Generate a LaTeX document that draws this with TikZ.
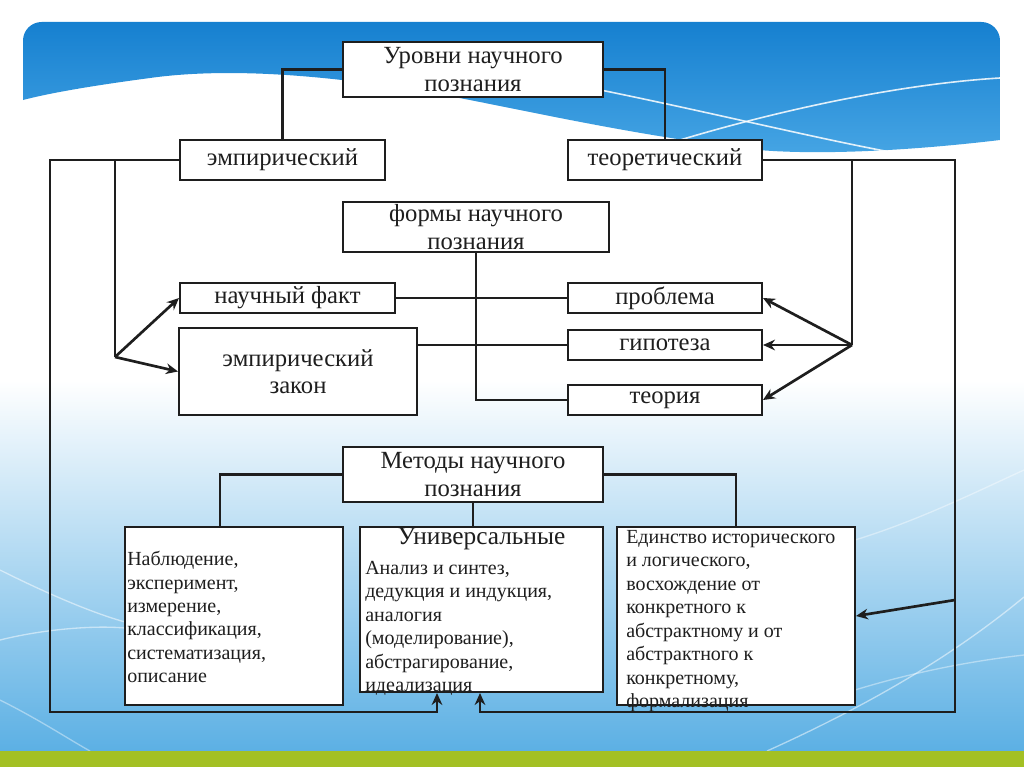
\documentclass[tikz,border=0pt]{standalone}
\usepackage{fontspec}
\setmainfont{Liberation Serif}
\usetikzlibrary{arrows.meta,calc}
\definecolor{bandtop}{RGB}{22,128,208}
\definecolor{bandbot}{RGB}{70,165,228}
\definecolor{bodymid}{RGB}{214,234,248}
\definecolor{bodybot}{RGB}{92,176,228}
\definecolor{barleaf}{RGB}{163,192,36}
\definecolor{ink}{RGB}{30,30,30}
\begin{document}
\begin{tikzpicture}[x=0.75pt,y=-0.75pt,
  box/.style={draw=ink, line width=1.5pt, fill=white, inner sep=0pt, align=center,
    text=ink, font=\fontsize{18.5}{20.5}\selectfont},
  conn/.style={draw=ink, line width=2pt},
  arr/.style={conn, -{Stealth[length=9pt,width=8pt]}},
  note/.style={inner sep=0pt, align=left, anchor=north west, text=ink,
    font=\fontsize{15}{17.6}\selectfont}]
\useasboundingbox (0,0) rectangle (1024,767);

% background
\fill[white] (0,0) rectangle (1024,767);
\shade[top color=white, middle color=bodymid, bottom color=bodybot] (0,380) rectangle (1024,751);
\begin{scope}
\clip[rounded corners=14pt] (23,22) rectangle (1000,800);
\shade[top color=bandtop, bottom color=bandbot] (23,22) -- (1000,22) -- (1000,140)
  .. controls (900,152) and (800,156) .. (740,148)
  .. controls (640,135) and (560,118) .. (480,102)
  .. controls (380,82) and (250,64) .. (150,78)
  .. controls (90,86) and (50,93) .. (23,100) -- cycle;
\draw[white, line width=1.2pt, opacity=.85] (560,82) .. controls (680,105) and (800,135) .. (890,152);
\draw[white, line width=1.2pt, opacity=.85] (680,140) .. controls (780,110) and (900,84) .. (1000,78);
\end{scope}
\draw[white, line width=1pt, opacity=.5] (0,570) .. controls (60,600) and (100,615) .. (125,622);
\draw[white, line width=1pt, opacity=.5] (0,640) .. controls (40,630) and (90,625) .. (125,628);
\draw[white, line width=1pt, opacity=.4] (0,700) .. controls (40,720) and (70,740) .. (90,751);
\draw[white, line width=1pt, opacity=.5] (767,751) .. controls (880,700) and (960,650) .. (1024,597);
\draw[white, line width=1pt, opacity=.4] (855,690) .. controls (920,670) and (980,660) .. (1024,655);
\draw[white, line width=1pt, opacity=.4] (855,540) .. controls (920,520) and (980,490) .. (1024,470);
\fill[barleaf] (0,751) rectangle (1024,767);

% boxes
\node[box, minimum width=195pt, minimum height=41.25pt] (lev) at (473,69.5) {Уровни научного\\познания};
\node[box, minimum width=153.75pt, minimum height=30pt] (emp) at (282.5,160) {эмпирический};
\node[box, minimum width=145.5pt, minimum height=30pt] (teor) at (665,160) {теоретический};
\node[box, minimum width=199.5pt, minimum height=37.5pt] (forms) at (476,227) {формы научного\\познания};
\node[box, minimum width=161.25pt, minimum height=22.5pt] (fact) at (287.5,298) {научный факт};
\node[box, minimum width=178.5pt, minimum height=65.25pt] (law) at (298,371.5) {эмпирический\\закон};
\node[box, minimum width=145.5pt, minimum height=22.5pt] (probl) at (665,298) {проблема};
\node[box, minimum width=145.5pt, minimum height=22.5pt] (hyp) at (665,345) {гипотеза};
\node[box, minimum width=145.5pt, minimum height=22.5pt] (theory) at (665,400) {теория};
\node[box, minimum width=195pt, minimum height=41.25pt] (meth) at (473,474.5) {Методы научного\\познания};
\node[box, minimum width=163.5pt, minimum height=133.5pt] (obs) at (234,616) {};
\node[box, minimum width=182.25pt, minimum height=123.75pt] (univ) at (481.5,609.5) {};
\node[box, minimum width=178.5pt, minimum height=133.5pt] (unity) at (736,616) {};

\node[note] (obs-txt) at ($(obs.north west)+(3,25)$)
  {Наблюдение,\\эксперимент,\\измерение,\\классификация,\\систематизация,\\описание};
\node[inner sep=0pt, anchor=north, text=ink, font=\fontsize{19}{21}\selectfont]
  (univ-head) at ($(univ.north)+(0,2)$) {Универсальные};
\node[note] (univ-txt) at ($(univ.north west)+(6,35)$)
  {Анализ и синтез,\\дедукция и индукция,\\аналогия\\(моделирование),\\абстрагирование,\\идеализация};
\node[note] (unity-txt) at ($(unity.north west)+(10,4)$)
  {Единство исторического\\и логического,\\восхождение от\\конкретного к\\абстрактному и от\\абстрактного к\\конкретному,\\формализация};

% connectors
\coordinate (lbus) at (50,712);
\coordinate (rbus) at (955,712);
\coordinate (lin) at (437,712);
\coordinate (rin) at (480,712);
\coordinate (efork) at (115,357);
\coordinate (tfork) at (852,345);
\coordinate (rtap) at (955,600);

\draw[conn] (lev.west) -| (emp.north);
\draw[conn] (lev.east) -| (teor.north);
\draw[arr] (emp.west) -| (lbus) -- (lin) -- (lin |- univ.south);
\draw[arr] (teor.east) -| (rbus) -- (rin) -- (rin |- univ.south);
\draw[conn] (efork |- emp.west) -- (efork);
\draw[arr] (efork) -- (fact.west);
\draw[arr] (efork) -- (law.west);
\draw[conn] (tfork |- teor.east) -- (tfork);
\foreach \t in {probl,hyp,theory}
  \draw[arr] (tfork) -- (\t.east);
\draw[arr] (rtap) -- (unity.east);
\draw[conn] (forms.south) |- (theory.west);
\draw[conn] (fact.east) -- (probl.west);
\draw[conn] (law.east |- hyp.west) -- (hyp.west);
\draw[conn] (meth.west) -| ($(obs.north)+(-14,0)$);
\draw[conn] (meth.east) -| (unity.north);
\draw[conn] (meth.south) -- (meth.south |- univ.north);
\end{tikzpicture}
\end{document}
